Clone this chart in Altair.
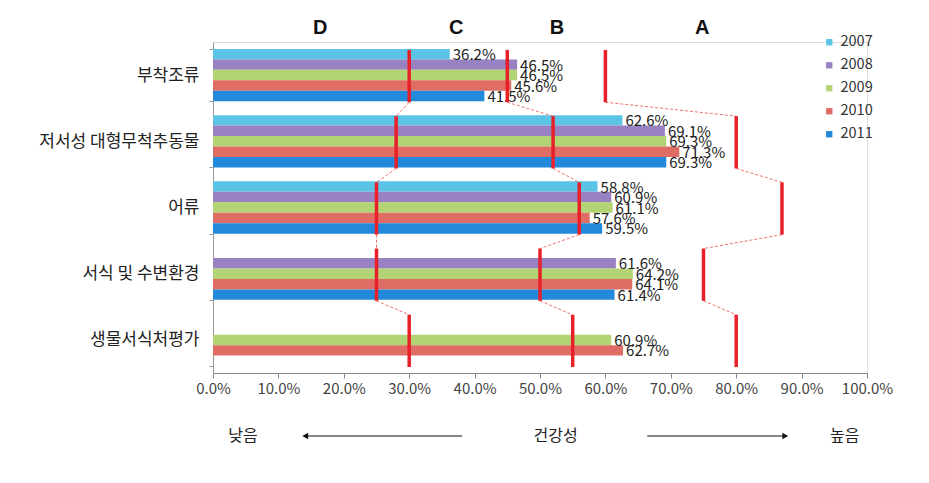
import altair as alt
import pandas as pd

categories = ["부착조류", "저서성 대형무척추동물", "어류", "서식 및 수변환경", "생물서식처평가"]
years = ["2007", "2008", "2009", "2010", "2011"]
v2007 = [36.2, 62.6, 58.8, None, None]
v2008 = [46.5, 69.1, 60.9, 61.6, None]
v2009 = [46.5, 69.3, 61.1, 64.2, 60.9]
v2010 = [45.6, 71.3, 57.6, 64.1, 62.7]
v2011 = [41.5, 69.3, 59.5, 61.4, None]
colors = ["#5BC3E6", "#9882C2", "#B3D475", "#E06C66", "#2389DA"]

# grade boundaries D/C, C/B, B/A per category
th_dc = [30, 28, 25, 25, 30]
th_cb = [45, 52, 56, 50, 55]
th_ba = [60, 80, 87, 75, 80]

grade_letters = ["D", "C", "B", "A"]
grade_x = [16.4, 37.2, 52.6, 74.8]

series = [v2007, v2008, v2009, v2010, v2011]
rows = []
for y, vals in zip(years, series):
    for c, v in zip(categories, vals):
        if v is not None:
            rows.append({"cat": c, "year": y, "value": v})
bars_df = pd.DataFrame(rows)

# threshold rules (category index -> numeric band position)
rule_rows = []
conn_rows = []
for ths in (th_dc, th_cb, th_ba):
    for i, t in enumerate(ths):
        rule_rows.append({"x": t, "y1": i + 0.12, "y2": i + 0.91})
        if i < len(ths) - 1:
            conn_rows.append({"x": t, "x2": ths[i + 1], "y1": i + 0.91, "y2": i + 1.12})
rule_df = pd.DataFrame(rule_rows)
conn_df = pd.DataFrame(conn_rows)

letters_df = pd.DataFrame({"t": grade_letters, "x": grade_x})

bottom_text = pd.DataFrame({"t": ["낮음", "건강성", "높음"], "x": [4.6, 52.4, 96.6]})
arrow_df = pd.DataFrame({"x": [14.1, 66.4], "x2": [38.1, 87.5]})
head_df = pd.DataFrame({"x": [14.1, 87.5], "shape": ["triangle-left", "triangle-right"]})

FONT = "Noto Sans CJK KR"

xscale = alt.Scale(domain=[0, 100], nice=False, zero=True)
yband = alt.Scale(paddingInner=0.21, paddingOuter=0.105)
yoff = alt.Scale(paddingInner=0, paddingOuter=0)

bars = alt.Chart(bars_df).mark_bar().encode(
    x=alt.X("value:Q", scale=xscale,
            axis=alt.Axis(values=list(range(0, 101, 10)), labelExpr="format(datum.value, '.1f') + '%'",
                          title=None, grid=False, domainColor="#888888", tickColor="#888888",
                          tickSize=5, labelFontSize=15, labelFont=FONT, labelColor="#444444",
                          labelPadding=3, labelOverlap=False, labelBound=False, labelFlush=False)),
    y=alt.Y("cat:N", sort=categories, scale=yband,
            axis=alt.Axis(title=None, labelFontSize=17, labelFont=FONT, labelColor="#222222",
                          domainColor="#999999", tickColor="#999999", tickBand="extent",
                          tickSize=4, labelPadding=10)),
    yOffset=alt.YOffset("year:N", sort=years, scale=yoff),
    color=alt.Color("year:N", sort=years, scale=alt.Scale(domain=years, range=colors),
                    legend=alt.Legend(title=None, orient="none", legendX=609, legendY=-7,
                                      symbolType="square", symbolSize=40, symbolStrokeWidth=0,
                                      labelFontSize=14.5, labelFont=FONT, labelColor="#333333",
                                      rowPadding=8)),
)

labels = alt.Chart(bars_df).transform_calculate(
    lab="format(datum.value, '.1f') + '%'"
).mark_text(align="left", baseline="middle", dx=3, dy=1, fontSize=15, font=FONT,
            color="#222222").encode(
    x=alt.X("value:Q", scale=xscale),
    y=alt.Y("cat:N", sort=categories, scale=yband, axis=None),
    yOffset=alt.YOffset("year:N", sort=years, scale=yoff),
    text="lab:N",
)

ynum = alt.Scale(domain=[0, 5], reverse=True, nice=False, zero=False)

conns = alt.Chart(conn_df).mark_rule(color="#F07070", strokeWidth=1, strokeDash=[3, 2]).encode(
    x=alt.X("x:Q", scale=xscale),
    x2="x2:Q",
    y=alt.Y("y1:Q", scale=ynum, axis=None),
    y2="y2:Q",
)

rules = alt.Chart(rule_df).mark_rule(color="#E8202A", strokeWidth=3.5).encode(
    x=alt.X("x:Q", scale=xscale),
    y=alt.Y("y1:Q", scale=ynum, axis=None),
    y2="y2:Q",
)

letters = alt.Chart(letters_df).mark_text(fontSize=20, fontWeight="bold", font="Liberation Sans",
                                          baseline="middle", color="#111111").encode(
    x=alt.X("x:Q", scale=xscale),
    y=alt.value(-14),
    text="t:N",
)

btext = alt.Chart(bottom_text).mark_text(fontSize=16, font=FONT, baseline="middle",
                                         color="#222222").encode(
    x=alt.X("x:Q", scale=xscale),
    y=alt.value(394),
    text="t:N",
)

arrows = alt.Chart(arrow_df).mark_rule(color="#111111", strokeWidth=1).encode(
    x=alt.X("x:Q", scale=xscale),
    x2="x2:Q",
    y=alt.value(394),
)

heads = alt.Chart(head_df).mark_point(filled=True, color="#111111", size=45, opacity=1).encode(
    x=alt.X("x:Q", scale=xscale),
    y=alt.value(394),
    shape=alt.Shape("shape:N", scale=None, legend=None),
)

chart = alt.layer(bars, labels, conns, rules, letters, btext, arrows, heads).resolve_scale(
    y="independent"
).properties(
    width=654,
    height=331,
    autosize=alt.AutoSizeParams(type="none"),
    padding={"left": 205, "top": 34, "right": 54, "bottom": 100},
).configure_view(stroke=None).configure(background="white")

chart.save("out.html", embed_options={"renderer": "svg", "actions": False})
